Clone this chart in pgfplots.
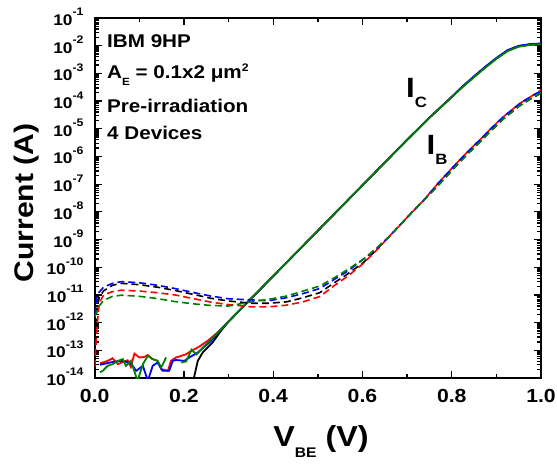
\documentclass[border=0pt]{standalone}
\usepackage{fontspec}
\setmainfont{Liberation Sans}[FakeStretch=1.12]
\usepackage{pgfplots}
\pgfplotsset{compat=1.18}
\definecolor{ogreen}{RGB}{0,128,0}
\definecolor{oblue}{RGB}{0,0,255}
\definecolor{ored}{RGB}{255,0,0}
\newcommand{\tl}[1]{\fontsize{15.5}{15.5}\selectfont\bfseries 10\raisebox{9.5bp}{\fontsize{11}{11}\selectfont\bfseries #1}}
\def\myminor{2e-14}
\foreach \ee in {-14,...,-2}{\foreach \mm in {2,...,9}{\xdef\myminor{\myminor,\mm e\ee}}}
\begin{document}
\begin{tikzpicture}
\useasboundingbox (0,0) rectangle (557bp,465bp);
\begin{axis}[
  at={(94.7bp,87bp)}, anchor=south west,
  scale only axis, width=446.3bp, height=360bp,
  xmin=0, xmax=1, ymode=log, log basis y=10, ymin=1e-14, ymax=1e-1,
  xtick={0,0.2,0.4,0.6,0.8,1.0},
  xticklabels={0.0,0.2,0.4,0.6,0.8,1.0},
  minor xtick={0.1,0.3,0.5,0.7,0.9},
  ytick={1e-14,1e-13,1e-12,1e-11,1e-10,1e-9,1e-8,1e-7,1e-6,1e-5,1e-4,1e-3,1e-2,1e-1},
  yticklabels={\tl{-14},\tl{-13},\tl{-12},\tl{-11},\tl{-10},\tl{-9},\tl{-8},\tl{-7},\tl{-6},\tl{-5},\tl{-4},\tl{-3},\tl{-2},\tl{-1}},
  minor ytick/.expanded={\myminor},
  tick align=inside,
  major tick length=7bp, minor tick length=4bp,
  axis line style={line width=1.8bp},
  every tick/.style={black, line width=1.3bp},
  xticklabel style={font=\fontsize{19}{19}\selectfont\bfseries, inner sep=0pt, anchor=north, yshift=-11bp},
  yticklabel style={inner sep=0pt, anchor=east, xshift=-11bp, yshift=1bp},
  unbounded coords=jump,
]
% ---- I_C (solid) ----
\addplot[black, line width=1.8bp] coordinates {
(0.218,5e-15) (0.231,4.17e-14) (0.242,8.32e-14) (0.253,1.26e-13) (0.264,1.91e-13) (0.28,4.37e-13) (0.30,1.10e-12) (0.325,2.82e-12) (0.35,7.24e-12) (0.40,4.79e-11) (0.45,3.16e-10) (0.50,2.09e-9) (0.55,1.38e-8) (0.60,9.12e-8) (0.65,6.03e-7) (0.70,3.98e-6) (0.75,2.51e-5) (0.80,1.41e-4) (0.825,3.39e-4) (0.85,7.59e-4) (0.875,1.66e-3) (0.90,3.47e-3) (0.925,6.61e-3) (0.95,9.55e-3) (0.975,1.10e-2) (1.00,1.17e-2)};
\addplot[ored, line width=1.8bp] coordinates {
(0.012,3.4e-14) (0.018,3.63e-14) (0.029,4.17e-14) (0.040,5.13e-14) (0.052,3.16e-14) (0.063,3.80e-14) (0.074,4.37e-14) (0.081,2.51e-14) (0.089,7.59e-14) (0.100,5.50e-14) (0.111,5.75e-14) (0.119,6.76e-14) (0.130,4.79e-14) (0.141,4.17e-14) (0.149,2.09e-14) (0.164,1.82e-14) (0.171,4.17e-14) (0.182,5.50e-14) (0.194,6.31e-14) (0.205,7.24e-14) (0.216,9.55e-14) (0.231,1.26e-13) (0.253,2.19e-13) (0.28,5.13e-13) (0.30,1.10e-12) (0.325,2.82e-12) (0.35,7.24e-12) (0.40,4.79e-11) (0.45,3.16e-10) (0.50,2.09e-9) (0.55,1.38e-8) (0.60,9.12e-8) (0.65,6.03e-7) (0.70,3.98e-6) (0.75,2.51e-5) (0.80,1.41e-4) (0.825,3.39e-4) (0.85,7.59e-4) (0.875,1.66e-3) (0.90,3.47e-3) (0.925,6.61e-3) (0.95,9.55e-3) (0.975,1.10e-2) (1.00,1.17e-2)};
\addplot[oblue, line width=1.8bp] coordinates {
(0.012,3.0e-14) (0.018,3.16e-14) (0.040,3.80e-14) (0.059,4.17e-14) (0.080,3.55e-14) (0.093,1.82e-14) (0.108,2.75e-14) (0.119,7.94e-15) (0.130,2.75e-14) (0.141,3.63e-14) (0.152,1.82e-14) (0.167,1.82e-14) (0.175,4.17e-14) (0.182,4.47e-14) (0.201,4.17e-14) (0.212,5.50e-14) (0.231,8.32e-14) (0.261,2.19e-13) (0.28,5.13e-13) (0.30,1.10e-12) (0.325,2.82e-12) (0.35,7.24e-12) (0.40,4.79e-11) (0.45,3.16e-10) (0.50,2.09e-9) (0.55,1.38e-8) (0.60,9.12e-8) (0.65,6.03e-7) (0.70,3.98e-6) (0.75,2.51e-5) (0.80,1.43e-4) (0.825,3.48e-4) (0.85,7.9e-4) (0.875,1.73e-3) (0.90,3.6e-3) (0.925,6.9e-3) (0.95,9.9e-3) (0.975,1.14e-2) (1.00,1.21e-2)};
\addplot[ogreen, line width=1.8bp] coordinates {
(0.012,1.6e-14) (0.018,1.82e-14) (0.029,2.75e-14) (0.040,3.16e-14) (0.052,4.17e-14) (0.063,4.79e-14) (0.070,2.75e-14) (0.081,4.17e-14) (0.096,7.94e-15) (0.108,3.16e-14) (0.119,6.31e-14) (0.130,4.79e-14) (0.141,4.17e-14) (0.149,2.40e-14) (0.160,5.50e-14) (0.175,nan) (0.194,3.63e-14) (0.205,3.98e-14) (0.217,1.05e-13) (0.228,7.08e-14) (0.246,1.45e-13) (0.28,5.13e-13) (0.30,1.10e-12) (0.325,2.82e-12) (0.35,7.24e-12) (0.40,4.79e-11) (0.45,3.16e-10) (0.50,2.09e-9) (0.55,1.38e-8) (0.60,9.12e-8) (0.65,6.03e-7) (0.70,3.98e-6) (0.75,2.51e-5) (0.80,1.39e-4) (0.825,3.3e-4) (0.85,7.3e-4) (0.875,1.6e-3) (0.90,3.35e-3) (0.925,6.35e-3) (0.95,9.2e-3) (0.975,1.06e-2) (1.00,1.13e-2)};
% ---- I_B (dashed) ----
\addplot[black, line width=1.6bp, dash pattern=on 7bp off 4bp] coordinates {
(0.0,3.16e-13) (0.005,3.16e-12) (0.01,7.94e-12) (0.02,1.41e-11) (0.04,2.24e-11) (0.06,2.63e-11) (0.10,2.34e-11) (0.14,1.91e-11) (0.18,1.45e-11) (0.22,1.05e-11) (0.26,7.59e-12) (0.30,6.03e-12) (0.35,5.01e-12) (0.39,5.01e-12) (0.43,5.62e-12) (0.467,7.94e-12) (0.504,1.20e-11) (0.538,2.82e-11) (0.568,5.89e-11) (0.602,1.48e-10) (0.632,4.37e-10) (0.658,1.20e-9) (0.68,2.82e-9) (0.70,6.31e-9) (0.736,2.51e-8) (0.77,9.12e-8) (0.811,4.79e-7) (0.84,1.45e-6) (0.863,3.31e-6) (0.89,9.12e-6) (0.916,2.29e-5) (0.953,6.92e-5) (0.975,1.15e-4) (1.0,1.91e-4)};
\addplot[ored, line width=1.6bp, dash pattern=on 7bp off 4bp] coordinates {
(0.0,2.51e-14) (0.005,6.31e-13) (0.01,5.01e-12) (0.02,1.0e-11) (0.04,1.32e-11) (0.06,1.48e-11) (0.10,1.38e-11) (0.14,1.20e-11) (0.18,1.0e-11) (0.22,7.41e-12) (0.26,5.50e-12) (0.30,4.47e-12) (0.35,3.72e-12) (0.39,3.72e-12) (0.43,4.27e-12) (0.467,5.62e-12) (0.504,8.71e-12) (0.538,2.24e-11) (0.568,4.90e-11) (0.602,1.38e-10) (0.632,4.17e-10) (0.658,1.20e-9) (0.68,2.82e-9) (0.70,6.31e-9) (0.736,2.51e-8) (0.77,1.10e-7) (0.811,5.75e-7) (0.84,1.74e-6) (0.863,3.98e-6) (0.89,1.10e-5) (0.916,2.75e-5) (0.953,8.32e-5) (0.975,1.38e-4) (1.0,2.51e-4)};
\addplot[oblue, line width=1.6bp, dash pattern=on 7bp off 4bp] coordinates {
(0.0,2.0e-12) (0.005,7.94e-12) (0.01,1.26e-11) (0.02,1.91e-11) (0.04,2.63e-11) (0.06,3.02e-11) (0.10,2.75e-11) (0.14,2.24e-11) (0.18,1.70e-11) (0.22,1.23e-11) (0.26,9.12e-12) (0.30,7.24e-12) (0.35,6.61e-12) (0.39,6.17e-12) (0.43,7.94e-12) (0.467,1.12e-11) (0.504,1.70e-11) (0.538,3.72e-11) (0.568,7.41e-11) (0.602,1.95e-10) (0.632,4.79e-10) (0.658,1.20e-9) (0.68,2.82e-9) (0.70,6.31e-9) (0.736,2.51e-8) (0.77,1.10e-7) (0.811,5.75e-7) (0.84,1.74e-6) (0.863,3.98e-6) (0.89,1.10e-5) (0.916,2.75e-5) (0.953,8.32e-5) (0.975,1.38e-4) (1.0,2.34e-4)};
\addplot[ogreen, line width=1.6bp, dash pattern=on 7bp off 4bp] coordinates {
(0.0,1.58e-12) (0.005,2.51e-12) (0.01,3.98e-12) (0.02,6.31e-12) (0.04,8.91e-12) (0.06,9.77e-12) (0.10,8.91e-12) (0.14,7.41e-12) (0.18,5.75e-12) (0.22,4.79e-12) (0.26,4.17e-12) (0.30,3.98e-12) (0.35,5.62e-12) (0.39,6.92e-12) (0.43,9.12e-12) (0.467,1.38e-11) (0.504,2.09e-11) (0.538,4.27e-11) (0.568,8.51e-11) (0.602,1.95e-10) (0.632,5.01e-10) (0.658,1.20e-9) (0.68,2.82e-9) (0.70,6.31e-9) (0.736,2.51e-8) (0.77,9.12e-8) (0.811,4.79e-7) (0.84,1.45e-6) (0.863,3.31e-6) (0.89,9.12e-6) (0.916,2.29e-5) (0.953,6.92e-5) (0.975,1.15e-4) (1.0,2.0e-4)};
\end{axis}
% annotations
\begin{scope}[every node/.style={inner sep=0pt, anchor=base west, font=\fontsize{18.5}{18.5}\selectfont\bfseries}]
\node at (107bp,417.5bp) {IBM 9HP};
\node at (107bp,386bp) {A\raisebox{-6.5bp}{\fontsize{10.5}{10.5}\selectfont\bfseries E} = 0.1x2 μm\raisebox{7.5bp}{\fontsize{11}{11}\selectfont\bfseries 2}};
\node at (107bp,352.7bp) {Pre-irradiation};
\node at (107bp,325bp) {4 Devices};
\node[font=\fontsize{28}{28}\selectfont\bfseries] at (406bp,367bp) {I\raisebox{-10bp}{\fontsize{15}{15}\selectfont\bfseries C}};
\node[font=\fontsize{28}{28}\selectfont\bfseries] at (426.5bp,310bp) {I\raisebox{-10bp}{\fontsize{15}{15}\selectfont\bfseries B}};
\end{scope}
\node[inner sep=0pt, anchor=base, font=\fontsize{29}{29}\selectfont\bfseries] at (321bp,18.3bp) {V\raisebox{-11bp}{\fontsize{14}{14}\selectfont\bfseries BE} (V)};
\node[inner sep=0pt, anchor=base, rotate=90, font=\fontsize{27}{27}\selectfont\bfseries] at (33.3bp,262bp) {Current (A)};
\end{tikzpicture}
\end{document}
